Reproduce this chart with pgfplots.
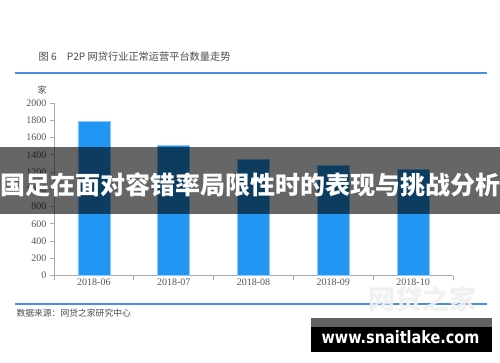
\documentclass[border=0pt]{standalone}
\usepackage{pgfplots}
\pgfplotsset{compat=1.18}
\usepackage{fontspec}
\setmainfont{Liberation Serif}
\newfontfamily\cjk{Noto Sans CJK SC}
\newfontfamily\dv{DejaVu Sans}
\definecolor{barblue}{RGB}{33,150,243}
\definecolor{baredge}{RGB}{140,200,250}
\definecolor{lineblue}{RGB}{74,144,226}
\definecolor{ticktext}{RGB}{85,85,85}
\definecolor{axisgray}{RGB}{170,170,170}
\definecolor{titlegray}{RGB}{75,75,75}
\begin{document}
\begin{tikzpicture}[x=1pt,y=1pt]
\path[use as bounding box, fill=white] (0,0) rectangle (500,362);
\begin{axis}[
 at={(54pt,86.3pt)}, anchor=south west, scale only axis,
 width=399pt, height=172.7pt,
 xmin=-0.5, xmax=4.5, ymin=0, ymax=2000,
 axis lines*=left,
 axis line style={draw=axisgray, line width=0.8pt},
 /pgf/number format/1000 sep={},
 /pgf/number format/assume math mode=true,
 ytick={0,200,...,2000},
 y tick label style={font=\fontsize{10}{10}\selectfont, text=ticktext},
 tick align=outside, major tick length=4pt,
 tick style={draw=axisgray, line width=0.8pt},
 xtick={-0.5,0.5,1.5,2.5,3.5,4.5}, xticklabels={},
 extra x ticks={0,1,2,3,4},
 extra x tick labels={2018-06,2018-07,2018-08,2018-09,2018-10},
 extra x tick style={major tick length=0pt, tick label style={font=\fontsize{10}{10}\selectfont, text=ticktext}},
 clip=false,
]
\addplot[ybar, bar width=32pt, fill=barblue, draw=baredge, line width=0.6pt]
 coordinates {(0,1783) (1,1506) (2,1349) (3,1279) (4,1232)};
\end{axis}
% unit label
\node[font=\cjk\fontsize{9}{9}\selectfont, text=titlegray] at (42,272) {家};
% title
\node[anchor=west, font=\cjk\fontsize{10.2}{10.2}\selectfont, text=titlegray] at (35,305) {图 6\quad P2P 网贷行业正常运营平台数量走势};
\draw[lineblue, line width=2pt] (15,289) -- (487,289);
% bottom line and source
\draw[lineblue, line width=1.6pt] (15,58) -- (487,58);
\node[anchor=west, font=\cjk\fontsize{8.8}{8.8}\selectfont, text=titlegray] at (13,49) {数据来源：网贷之家研究中心};
% watermark
\node[font=\cjk\bfseries\fontsize{27}{27}\selectfont, text=gray!12, opacity=0.9] at (422,62.5) {网贷之家};
% overlay band
\fill[black, opacity=0.6] (0,148) rectangle (500,215);
\node[font=\cjk\bfseries\fontsize{25}{25}\selectfont, text=white] at (250,177.5) {国足在面对容错率局限性时的表现与挑战分析};
% site box
\fill[black] (311,10) rectangle (492,44);
\fill[black!62] (311,35) rectangle (492,44);
\node[font=\dv\bfseries\fontsize{17}{17}\selectfont, text=white] at (400.5,25) {\scalebox{0.85}[1]{www.snaitlake.com}};
\end{tikzpicture}
\end{document}
